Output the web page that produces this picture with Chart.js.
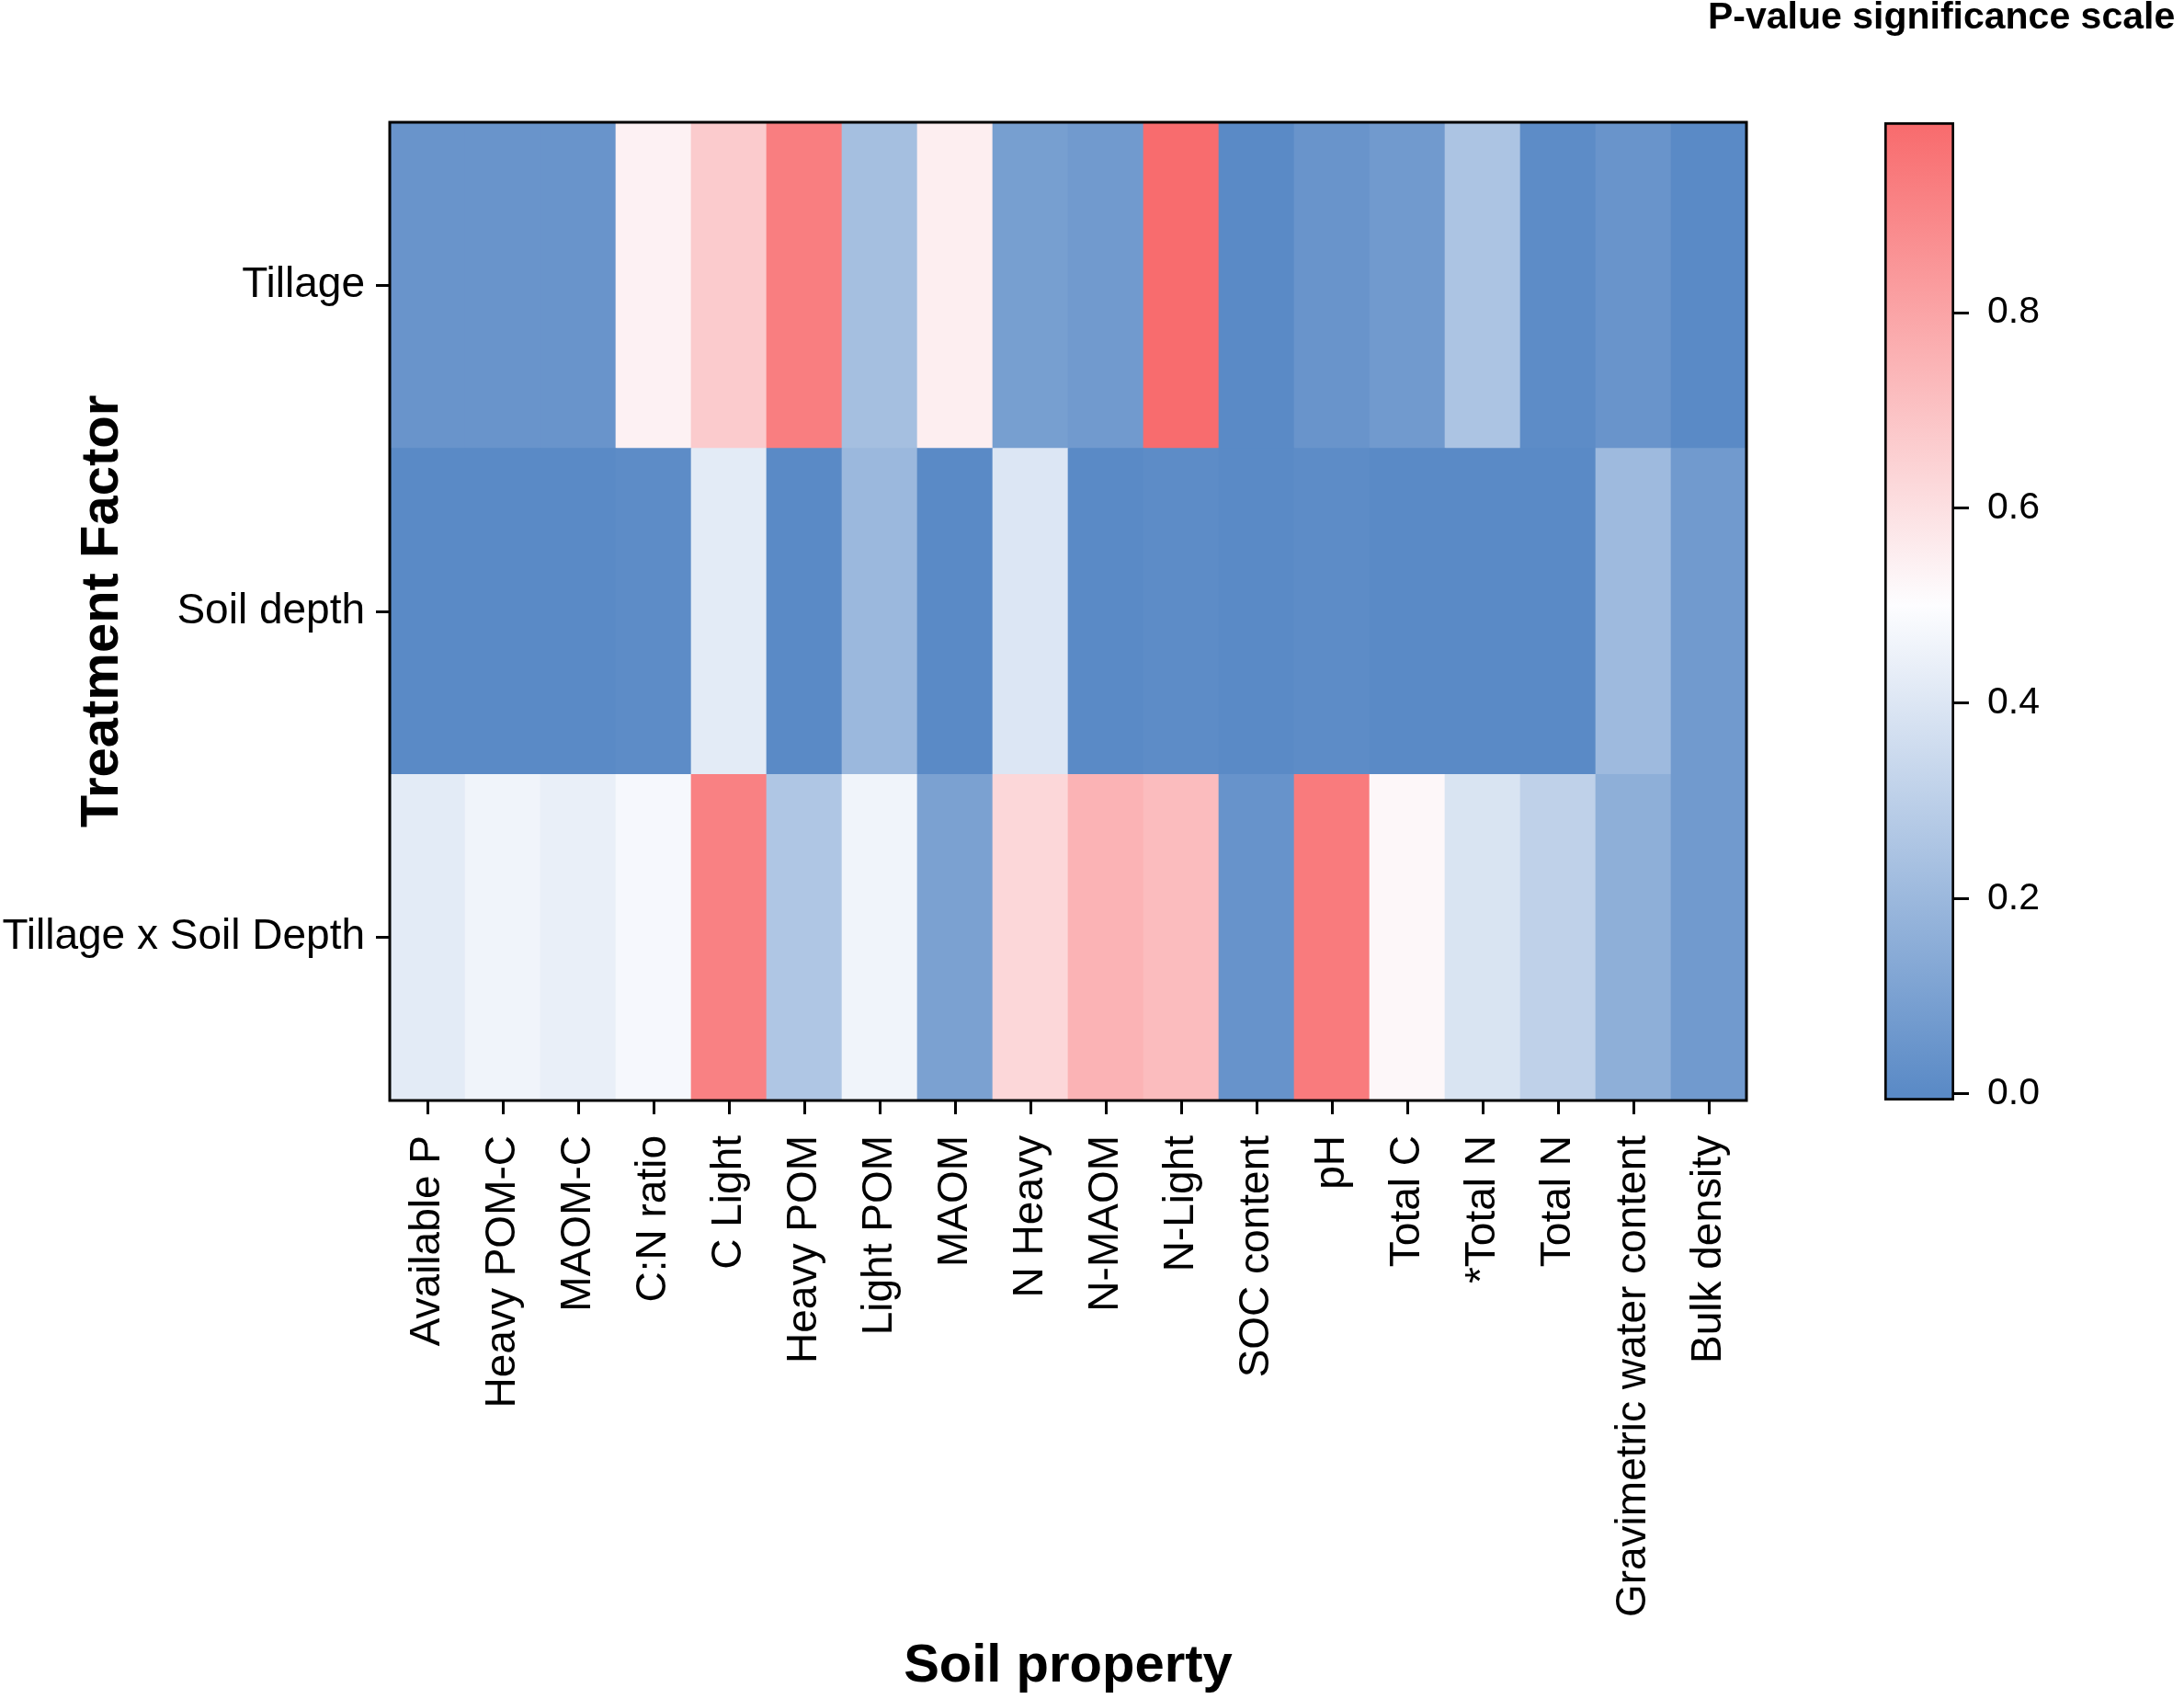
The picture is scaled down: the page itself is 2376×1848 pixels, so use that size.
<!DOCTYPE html>
<html>
<head>
<meta charset="utf-8">
<title>P-value heatmap</title>
<script src="https://cdn.jsdelivr.net/npm/chart.js@4.4.1/dist/chart.umd.min.js"></script>
<style>
  html, body { margin: 0; padding: 0; background: #fff; }
  #wrap { position: relative; width: 2376px; height: 1848px; overflow: hidden; }
  canvas { position: absolute; left: 0; top: 0; }
  #scale-title {
    position: absolute; left: 1858px; top: -3px;
    font: bold 41px "Liberation Sans", Arial, sans-serif;
    line-height: 41px; white-space: nowrap; color: #000;
  }
</style>
</head>
<body>
<div id="wrap">
  <canvas id="heatmap" width="2376" height="1848"></canvas>
  <canvas id="colorbar" width="2376" height="1848"></canvas>
  <div id="scale-title">P-value significance scale</div>
</div>
<script>
const soilProperties = [
  "Available P", "Heavy POM-C", "MAOM-C", "C:N ratio", "C Light", "Heavy POM",
  "Light POM", "MAOM", "N Heavy", "N-MAOM", "N-Light", "SOC content", "pH",
  "Total C", "*Total N", "Total N", "Gravimetric water content", "Bulk density"
];
const factors = ["Tillage", "Soil depth", "Tillage x Soil Depth"];

// p-values
const pTillage = [0.045, 0.045, 0.045, 0.54, 0.67, 0.93, 0.23, 0.55, 0.09, 0.07, 0.99, 0.00, 0.045, 0.07, 0.25, 0.01, 0.045, 0.00];
const pSoilDepth = [0.00, 0.00, 0.00, 0.01, 0.42, 0.00, 0.20, 0.00, 0.40, 0.00, 0.01, 0.00, 0.01, 0.00, 0.00, 0.00, 0.21, 0.07];
const pInteraction = [0.42, 0.46, 0.44, 0.48, 0.92, 0.26, 0.46, 0.10, 0.63, 0.75, 0.72, 0.04, 0.94, 0.52, 0.39, 0.31, 0.16, 0.07];

const colorTicks = [0.0, 0.2, 0.4, 0.6, 0.8];
const colorScaleRange = [-0.007, 0.995];

Chart.defaults.font.family = '"Liberation Sans", Arial, sans-serif';
Chart.defaults.color = "#000";

const lowColor = [90, 138, 198];
const midColor = [253, 253, 255];
const highColor = [248, 105, 107];

function pColor(p) {
  const t = Math.min(Math.max(p, 0), 1);
  const [a, b, f] = t < 0.5
    ? [lowColor, midColor, t / 0.5]
    : [midColor, highColor, (t - 0.5) / 0.5];
  const c = a.map((v, i) => Math.round(v + (b[i] - v) * f));
  return `rgb(${c.join(",")})`;
}

const frameBox = {
  id: "frameBox",
  afterDraw(chart) {
    const { ctx, chartArea } = chart;
    ctx.save();
    ctx.strokeStyle = "#000";
    ctx.lineWidth = 3;
    ctx.strokeRect(chartArea.left, chartArea.top, chartArea.right - chartArea.left, chartArea.bottom - chartArea.top);
    ctx.restore();
  }
};

// rows stacked from the bottom up
const rows = [pInteraction, pSoilDepth, pTillage];

const heatmapChart = new Chart(document.getElementById("heatmap"), {
  type: "bar",
  data: {
    labels: soilProperties,
    datasets: rows.map((values, i) => ({
      label: factors[factors.length - 1 - i],
      data: values.map(() => 1),
      backgroundColor: values.map(pColor),
      borderWidth: 0,
      barPercentage: 1,
      categoryPercentage: 1
    }))
  },
  options: {
    responsive: false,
    animation: false,
    devicePixelRatio: 1,
    layout: { padding: { top: 133, right: 476, bottom: 0, left: 0 } },
    plugins: { legend: { display: false }, tooltip: { enabled: false } },
    scales: {
      x: {
        stacked: true,
        border: { display: false },
        grid: { offset: false, drawOnChartArea: false, tickLength: 15, tickWidth: 3, tickColor: "#000" },
        ticks: { autoSkip: false, maxRotation: 90, minRotation: 90, padding: 23, font: { size: 46 } },
        title: {
          display: true,
          text: "Soil property",
          font: { size: 58, weight: "bold" },
          padding: { top: 0, bottom: 0 }
        },
        afterFit(scale) { scale.height = 651; }
      },
      y: {
        stacked: true,
        min: 0,
        max: factors.length,
        border: { display: false },
        afterBuildTicks(scale) {
          scale.ticks = factors.map((f, i) => ({ value: factors.length - i - 0.5 }));
        },
        grid: { drawOnChartArea: false, tickLength: 15, tickWidth: 3, tickColor: "#000" },
        ticks: {
          padding: 12,
          font: { size: 46 },
          callback: (value) => factors[factors.length - 1 - Math.floor(value)]
        },
        title: {
          display: true,
          text: "Treatment Factor",
          font: { size: 58, weight: "bold" },
          padding: { top: 77, bottom: 0 }
        },
        afterFit(scale) { scale.width = 424; }
      }
    }
  },
  plugins: [frameBox]
});

function colorbarFill(context) {
  const chart = context.chart;
  if (!chart.chartArea) return pColor(0);
  const yScale = chart.scales.y;
  const y0 = yScale.getPixelForValue(0);
  const y1 = yScale.getPixelForValue(1);
  const gradient = chart.ctx.createLinearGradient(0, y0, 0, y1);
  gradient.addColorStop(0, pColor(0));
  gradient.addColorStop(0.25, pColor(0.25));
  gradient.addColorStop(0.5, pColor(0.5));
  gradient.addColorStop(0.75, pColor(0.75));
  gradient.addColorStop(1, pColor(1));
  return gradient;
}

const colorbarChart = new Chart(document.getElementById("colorbar"), {
  type: "bar",
  data: {
    labels: [""],
    datasets: [{
      data: [colorScaleRange],
      backgroundColor: colorbarFill,
      borderColor: "#000",
      borderWidth: 3,
      borderSkipped: false,
      barPercentage: 1,
      categoryPercentage: 1
    }]
  },
  options: {
    responsive: false,
    animation: false,
    devicePixelRatio: 1,
    layout: { padding: { top: 133, right: 0, bottom: 651, left: 2050 } },
    plugins: { legend: { display: false }, tooltip: { enabled: false } },
    scales: {
      x: { display: false },
      y: {
        position: "right",
        min: colorScaleRange[0],
        max: colorScaleRange[1],
        border: { display: false },
        afterBuildTicks(scale) {
          scale.ticks = colorTicks.map((v) => ({ value: v }));
        },
        grid: { drawOnChartArea: false, tickLength: 16, tickWidth: 3, tickColor: "#000" },
        ticks: {
          padding: 20,
          font: { size: 41 },
          callback: (value) => value.toFixed(1)
        },
        afterFit(scale) { scale.width = 250; }
      }
    }
  }
});
</script>
</body>
</html>
